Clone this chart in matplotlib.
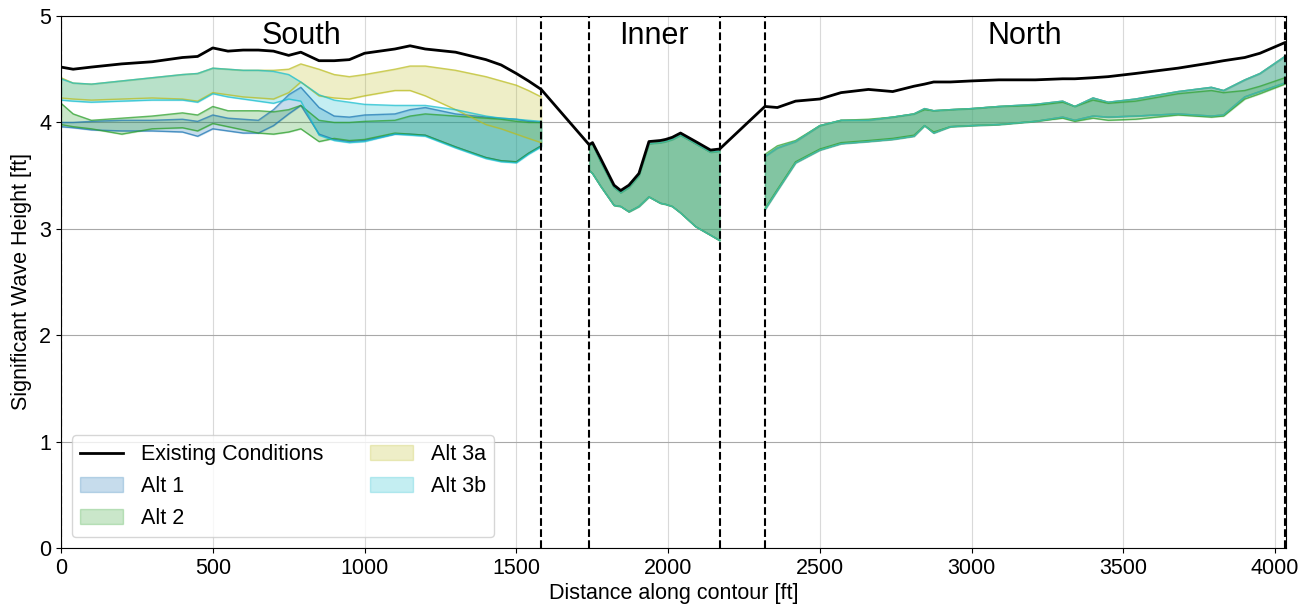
import matplotlib
matplotlib.use("Agg")
import numpy as np
import matplotlib.pyplot as plt
from matplotlib.patches import Patch
from matplotlib.lines import Line2D

plt.rcParams['font.family'] = ['Liberation Sans', 'DejaVu Sans']

# ---- data ----
# region limits [ft]
region_names = ['South', 'Inner', 'North']
region_bounds = [(0, 1582), (1740, 2170), (2319, 4032)]

# South section
x_south = [0, 40, 100, 200, 300, 400, 450, 500, 550, 600, 650, 700, 750, 790,
           850, 900, 950, 1000, 1100, 1150, 1200, 1300, 1400, 1450, 1500, 1540, 1582]
exist_south = [4.52, 4.50, 4.52, 4.55, 4.57, 4.61, 4.62, 4.70, 4.67, 4.68, 4.68, 4.67, 4.63, 4.66,
               4.58, 4.58, 4.59, 4.65, 4.69, 4.72, 4.69, 4.66, 4.59, 4.54, 4.46, 4.39, 4.31]
alt1_south_hi = [4.00, 4.00, 4.01, 4.02, 4.02, 4.03, 4.01, 4.07, 4.04, 4.03, 4.02, 4.12, 4.26, 4.33,
                 4.14, 4.06, 4.05, 4.07, 4.08, 4.12, 4.14, 4.08, 4.05, 4.04, 4.03, 4.01, 4.00]
alt1_south_lo = [3.96, 3.95, 3.93, 3.92, 3.92, 3.91, 3.87, 3.94, 3.92, 3.90, 3.90, 3.97, 4.08, 4.16,
                 3.89, 3.84, 3.82, 3.83, 3.89, 3.89, 3.88, 3.77, 3.67, 3.64, 3.63, 3.71, 3.78]
alt2_south_hi = [4.18, 4.08, 4.02, 4.04, 4.06, 4.09, 4.07, 4.15, 4.11, 4.11, 4.11, 4.10, 4.12, 4.16,
                 4.02, 4.00, 4.00, 4.01, 4.02, 4.06, 4.08, 4.06, 4.04, 4.03, 4.01, 4.00, 4.00]
alt2_south_lo = [3.98, 3.96, 3.94, 3.89, 3.94, 3.95, 3.92, 3.99, 3.96, 3.93, 3.90, 3.89, 3.91, 3.94,
                 3.82, 3.85, 3.83, 3.84, 3.90, 3.89, 3.88, 3.77, 3.67, 3.64, 3.63, 3.71, 3.78]
alt3a_south_hi = [4.42, 4.37, 4.36, 4.39, 4.42, 4.45, 4.46, 4.51, 4.50, 4.49, 4.49, 4.49, 4.50, 4.55,
                  4.50, 4.45, 4.43, 4.45, 4.50, 4.53, 4.53, 4.49, 4.43, 4.39, 4.35, 4.30, 4.24]
alt3a_south_lo = [4.23, 4.22, 4.21, 4.22, 4.23, 4.22, 4.20, 4.28, 4.26, 4.24, 4.23, 4.22, 4.28, 4.38,
                  4.25, 4.23, 4.22, 4.25, 4.30, 4.30, 4.25, 4.12, 3.98, 3.94, 3.89, 3.85, 3.81]
alt3b_south_hi = [4.41, 4.37, 4.36, 4.39, 4.42, 4.45, 4.46, 4.51, 4.50, 4.49, 4.49, 4.48, 4.45, 4.38,
                  4.26, 4.21, 4.19, 4.17, 4.16, 4.16, 4.16, 4.12, 4.06, 4.04, 4.03, 4.02, 4.01]
alt3b_south_lo = [4.21, 4.20, 4.19, 4.20, 4.21, 4.21, 4.19, 4.27, 4.24, 4.22, 4.20, 4.18, 4.22, 4.20,
                  3.88, 3.83, 3.81, 3.82, 3.89, 3.88, 3.87, 3.76, 3.66, 3.63, 3.62, 3.70, 3.77]

# Inner section
x_inner = [1740, 1751, 1778, 1822, 1844, 1871, 1904, 1937, 1975, 1992, 2014, 2041, 2091, 2140, 2170]
exist_inner = [3.79, 3.81, 3.66, 3.41, 3.36, 3.41, 3.52, 3.82, 3.83, 3.84, 3.86, 3.90, 3.82, 3.74, 3.75]
inner_hi = [3.78, 3.80, 3.63, 3.39, 3.34, 3.39, 3.50, 3.80, 3.81, 3.82, 3.84, 3.88, 3.80, 3.72, 3.73]
inner_lo = [3.55, 3.52, 3.40, 3.22, 3.21, 3.16, 3.21, 3.30, 3.24, 3.23, 3.21, 3.15, 3.02, 2.94, 2.89]

# North section
x_north = [2319, 2360, 2420, 2500, 2570, 2660, 2740, 2810, 2845, 2875, 2930, 3000, 3090,
           3210, 3300, 3340, 3400, 3450, 3540, 3680, 3790, 3830, 3900, 3950, 4032]
exist_north = [4.15, 4.14, 4.20, 4.22, 4.28, 4.31, 4.29, 4.34, 4.36, 4.38, 4.38, 4.39, 4.40,
               4.40, 4.41, 4.41, 4.42, 4.43, 4.46, 4.51, 4.56, 4.58, 4.61, 4.65, 4.75]
north_hi = [3.68, 3.76, 3.82, 3.97, 4.02, 4.02, 4.05, 4.08, 4.13, 4.11, 4.12, 4.13, 4.15,
            4.17, 4.20, 4.15, 4.23, 4.19, 4.22, 4.29, 4.33, 4.30, 4.40, 4.46, 4.62]
north_lo = [3.18, 3.36, 3.62, 3.74, 3.80, 3.82, 3.84, 3.87, 3.97, 3.90, 3.96, 3.97, 3.98,
            4.01, 4.05, 4.02, 4.06, 4.05, 4.06, 4.08, 4.06, 4.07, 4.24, 4.29, 4.37]
alt2_north_hi = [3.70, 3.78, 3.83, 3.97, 4.02, 4.03, 4.05, 4.08, 4.12, 4.11, 4.12, 4.13, 4.15,
                 4.16, 4.19, 4.15, 4.21, 4.18, 4.20, 4.27, 4.30, 4.28, 4.30, 4.34, 4.42]
alt2_north_lo = [3.19, 3.37, 3.63, 3.75, 3.81, 3.83, 3.85, 3.88, 3.97, 3.91, 3.96, 3.97, 3.98,
                 4.01, 4.04, 4.01, 4.04, 4.02, 4.03, 4.07, 4.05, 4.06, 4.22, 4.27, 4.36]

alt_names = ['Alt 1', 'Alt 2', 'Alt 3a', 'Alt 3b']
alt_colors = ['#1f77b4', '#2ca02c', '#bcbd22', '#17becf']
alt_bands = {
    'Alt 1': [(x_south, alt1_south_lo, alt1_south_hi), (x_inner, inner_lo, inner_hi), (x_north, north_lo, north_hi)],
    'Alt 2': [(x_south, alt2_south_lo, alt2_south_hi), (x_inner, inner_lo, inner_hi), (x_north, alt2_north_lo, alt2_north_hi)],
    'Alt 3a': [(x_south, alt3a_south_lo, alt3a_south_hi), (x_inner, inner_lo, inner_hi), (x_north, north_lo, north_hi)],
    'Alt 3b': [(x_south, alt3b_south_lo, alt3b_south_hi), (x_inner, inner_lo, inner_hi), (x_north, north_lo, north_hi)],
}

# ---- plot ----
fig = plt.figure(figsize=(13.12, 6.09), dpi=100)
ax = fig.add_axes([0.0465, 0.1002, 0.9335, 0.8735])

for name, col in zip(alt_names, alt_colors):
    for xs, lo, hi in alt_bands[name]:
        ax.fill_between(xs, lo, hi, color=col, alpha=0.25, lw=1)
        ax.plot(xs, lo, color=col, lw=1, alpha=0.7)
        ax.plot(xs, hi, color=col, lw=1, alpha=0.7)

x_exist = x_south + x_inner + x_north
y_exist = exist_south + exist_inner + exist_north
ax.plot(x_exist, y_exist, color='k', lw=2, zorder=5)

for (a, b), name in zip(region_bounds, region_names):
    ax.axvline(a, color='k', ls='--', lw=1.5, zorder=6)
    ax.axvline(b, color='k', ls='--', lw=1.5, zorder=6)
    ax.text((a + b) / 2, 4.81, name, ha='center', va='center', fontsize=22)

ax.set_xlim(0, 4035)
ax.set_ylim(0, 5)
ax.set_xticks([0, 500, 1000, 1500, 2000, 2500, 3000, 3500, 4000])
ax.set_yticks([0, 1, 2, 3, 4, 5])
ax.tick_params(labelsize=15.5)
ax.set_axisbelow(True)
ax.grid(axis='x', color='#d9d9d9', lw=0.8)
ax.grid(axis='y', color='#a8a8a8', lw=0.8)
ax.set_xlabel('Distance along contour [ft]', fontsize=15.5, labelpad=3)
ax.set_ylabel('Significant Wave Height [ft]', fontsize=15.5, labelpad=5)

handles = [Line2D([], [], color='k', lw=2)]
handles += [Patch(facecolor=c, edgecolor=c, alpha=0.25) for c in alt_colors]
ax.legend(handles, ['Existing Conditions'] + alt_names, loc='lower left', ncol=2,
          fontsize=15.5, handlelength=2.0, columnspacing=2.2)

fig.savefig('out.png', dpi=100)
